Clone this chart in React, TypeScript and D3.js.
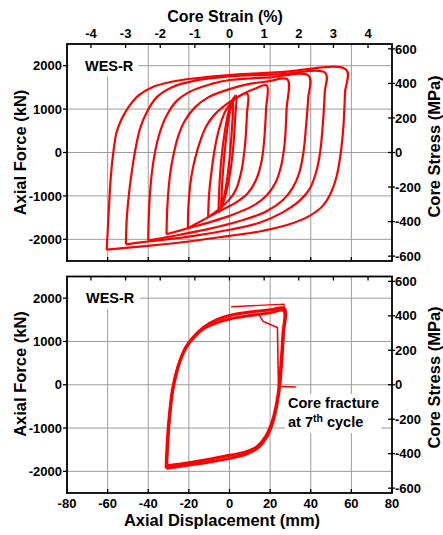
import React from 'react';
import * as d3 from 'd3';

// ---------- axis ticks ----------
const displacementTicks = [-80, -60, -40, -20, 0, 20, 40, 60, 80];
const gridDisplacement = [-60, -40, -20, 0, 20, 40, 60];
const forceTicks = [-2000, -1000, 0, 1000, 2000];
const stressTicks = [-600, -400, -200, 0, 200, 400, 600];
const strainTicks = [-4, -3, -2, -1, 0, 1, 2, 3, 4];

type P = [number, number]; // [displacement mm, force kN]

// ---------- top panel: incremental cyclic loading ----------
const loopS1: P[] = [
  [-4.1, -1250], [-3.6, -700], [-2.6, -100], [-1.2, 500], [0.3, 950], [1.8, 1170],
  [1.4, 700], [0.4, 50], [-1.0, -550], [-2.6, -1000], [-4.1, -1250],
];
const loopS2: P[] = [
  [-5.4, -1380], [-5.0, -800], [-4.0, -150], [-2.4, 450], [-0.4, 950], [1.6, 1220], [3.2, 1310],
  [2.8, 800], [1.8, 100], [0.2, -500], [-1.8, -950], [-3.8, -1250], [-5.4, -1380],
];
const loopL1: P[] = [
  [-10.5, -1490], [-10.1, -1000], [-8.8, -420], [-7.0, 150], [-4.8, 600], [-1.6, 990], [2.5, 1220], [8.8, 1350],
  [8.6, 900], [7.6, 150], [5.9, -420], [3.3, -840], [0, -1080], [-4.8, -1290], [-10.5, -1490],
];
const loopL2: P[] = [
  [-20.5, -1746], [-20.1, -1150], [-18.8, -560], [-17.0, -150], [-14.6, 240], [-11.3, 615], [-7.0, 890],
  [0, 1160], [6.6, 1350], [12.5, 1470], [18.3, 1545],
  [18.0, 1000], [17.0, 240], [15.6, -250], [13.0, -640], [9.0, -940], [3.3, -1150], [-4.0, -1330],
  [-12, -1530], [-20.5, -1746],
];
const loopL3: P[] = [
  [-31, -1885], [-30.6, -1250], [-29.4, -560], [-27.7, -80], [-25.2, 385], [-22, 730], [-17, 1040],
  [-10.5, 1270], [0, 1460], [9.8, 1580], [19, 1640], [28.5, 1685],
  [28.1, 1000], [27.2, 230], [25.4, -310], [22.6, -700], [18, -1000], [11.5, -1230], [0, -1460],
  [-10, -1610], [-20, -1740], [-31, -1885],
];
const loopL4: P[] = [
  [-40, -2030], [-39.6, -1310], [-38.4, -540], [-36.7, 0], [-34.3, 460], [-31, 845], [-26, 1190],
  [-18.7, 1420], [-8.8, 1580], [0, 1670], [20, 1730], [39, 1770],
  [38.7, 1230], [37.7, 615], [36.4, 0], [34.4, -460], [31.2, -810], [26.2, -1100], [18, -1360],
  [5, -1580], [-10, -1760], [-25, -1900], [-40, -2030],
];
const loopL5: P[] = [
  [-51, -2116], [-50.6, -1540], [-49.4, -920], [-47.9, -385], [-46.6, 0], [-44.1, 540], [-40.8, 920],
  [-35.9, 1270], [-28.5, 1500], [-17, 1655], [0, 1755], [25, 1800], [47.2, 1835],
  [46.9, 1385], [45.9, 615], [44.6, 0], [42.6, -460], [39.4, -845], [34.4, -1115], [26.2, -1380],
  [14.8, -1620], [0, -1780], [-20, -1940], [-40, -2050], [-51, -2116],
];
const loopL6: P[] = [
  [-60.5, -2240], [-60, -1850], [-59.3, -1230], [-58.4, -540], [-57.2, 0], [-55.6, 460], [-53.1, 770],
  [-49.8, 1040], [-44.9, 1310], [-38.3, 1500], [-28.5, 1630], [-17, 1710], [0, 1785], [25, 1850], [57.5, 1905],
  [56.9, 1385], [56.1, 615], [54.8, 0], [52.8, -540], [50, -920], [45.9, -1230], [39.4, -1460],
  [29.5, -1654], [14.8, -1820], [0, -1920], [-20, -2050], [-40, -2150], [-60.5, -2240],
];
const topLoops = [loopS1, loopS2, loopL1, loopL2, loopL3, loopL4, loopL5, loopL6];

// ---------- bottom panel: constant amplitude until fracture ----------
const cycleA: P[] = [
  [-31.2, -1930], [-30.6, -1300], [-29.6, -700], [-28.2, -150], [-26.4, 250], [-24.4, 560], [-21.6, 860],
  [-18, 1090], [-13, 1320], [-6.5, 1500], [0, 1600], [10, 1680], [20, 1730], [27.0, 1760],
  [26.6, 1200], [25.8, 600], [24.8, 0], [23.4, -450], [21.4, -860], [18.4, -1200], [14.2, -1450],
  [8, -1610], [0, -1700], [-12, -1800], [-24, -1880], [-31.2, -1930],
];
const cycleB: P[] = [
  [-30.9, -1870], [-30.3, -1270], [-29.3, -670], [-27.9, -120], [-26.0, 280], [-24.0, 590], [-21.1, 880],
  [-17.4, 1100], [-12.2, 1310], [-5.8, 1440], [0, 1520], [10, 1600], [20, 1660], [26.7, 1710],
  [26.3, 1180], [25.5, 580], [24.5, 0], [23.1, -450], [21.0, -850], [18.0, -1180], [13.8, -1420],
  [7.6, -1560], [0, -1630], [-12, -1740], [-24, -1830], [-30.9, -1870],
];
const lastApproach: P[] = [[0.8, 1800], [26.8, 1862], [27.1, 1745]];
const fracturePath: P[] = [[14.6, 1615], [16.6, 1462], [18.7, 1420], [23.6, 1320], [24.1, -38], [32.7, -53]];

// ---------- layout ----------
const W = 443, H = 535;
const X0 = 67, X1 = 392;
const MM_PER_PCT = 17.05; // displacement per 1 % core strain
const KN_PER_MPA = 3.98; // core area
const FONT = "'Liberation Sans', Arial, sans-serif";
const RED = '#ff0000';
const GRID = '#9c9c9c';

const panels = [
  { top: 44, bottom: 261, showStrainLabels: true, showDispLabels: false, titleLeftY: 152.5, titleRightY: 146.5,
    label: { x: 85, boxX: 69, boxW: 69 } },
  { top: 276.5, bottom: 493, showStrainLabels: false, showDispLabels: true, titleLeftY: 374, titleRightY: 377.5,
    label: { x: 86, boxX: 69, boxW: 71 } },
];

export default function App() {
  const x = d3.scaleLinear().domain([-80, 80]).range([X0, X1]);
  const xs = d3.scaleLinear().domain([-80 / MM_PER_PCT, 80 / MM_PER_PCT]).range([X0, X1]);

  return (
    <svg width={W} height={H} style={{ position: 'absolute', left: 0, top: 0, background: '#fff' }}
      fontFamily={FONT} fontWeight="bold">
      <rect x={0} y={0} width={W} height={H} fill="#fff" />
      {panels.map((p, i) => {
        const y = d3.scaleLinear().domain([-2500, 2500]).range([p.bottom, p.top]);
        const ys = d3.scaleLinear().domain([-2500 / KN_PER_MPA, 2500 / KN_PER_MPA]).range([p.bottom, p.top]);
        const line = d3.line<P>().x(d => x(d[0])).y(d => y(d[1])).curve(d3.curveCatmullRom.alpha(0.5));
        const lineStraight = d3.line<P>().x(d => x(d[0])).y(d => y(d[1]));
        return (
          <g key={i}>
            {/* grid */}
            {gridDisplacement.map(v => (
              <line key={'gx' + v} x1={x(v)} x2={x(v)} y1={p.top} y2={p.bottom} stroke={GRID} strokeWidth={1} />
            ))}
            {forceTicks.map(v => (
              <line key={'gy' + v} x1={X0} x2={X1} y1={y(v)} y2={y(v)} stroke={GRID} strokeWidth={1} />
            ))}
            {/* label box */}
            <rect x={p.label.boxX} y={p.top + 1} width={p.label.boxW} height={y(2000) - p.top + 10} fill="#fff" />
            {i === 1 && <rect x={285} y={394} width={96} height={39} fill="#fff" />}
            {/* data */}
            {i === 0 && topLoops.map((lp, k) => (
              <path key={k} d={line(lp) || ''} fill="none" stroke={RED} strokeWidth={2.2} strokeLinejoin="round" />
            ))}
            {i === 1 && (
              <g>
                <path d={line(cycleB) || ''} fill="none" stroke={RED} strokeWidth={3} strokeLinejoin="round" />
                <path d={line(cycleA) || ''} fill="none" stroke={RED} strokeWidth={3} strokeLinejoin="round" />
                <path d={lineStraight(lastApproach) || ''} fill="none" stroke={RED} strokeWidth={1.4} />
                <path d={lineStraight(fracturePath) || ''} fill="none" stroke={RED} strokeWidth={1.6} />
              </g>
            )}
            {/* frame */}
            <rect x={X0} y={p.top} width={X1 - X0} height={p.bottom - p.top} fill="none" stroke="#000" strokeWidth={1.8} />
            {/* strain ticks (top, inward) */}
            {strainTicks.map(v => (
              <line key={'st' + v} x1={xs(v)} x2={xs(v)} y1={p.top} y2={p.top + 4} stroke="#000" strokeWidth={1.3} />
            ))}
            {/* displacement ticks (bottom, inward) */}
            {displacementTicks.map(v => (
              <line key={'dt' + v} x1={x(v)} x2={x(v)} y1={p.bottom} y2={p.bottom - 4} stroke="#000" strokeWidth={1.3} />
            ))}
            {/* force ticks (left, outward) */}
            {forceTicks.map(v => (
              <line key={'ft' + v} x1={X0 - 4} x2={X0} y1={y(v)} y2={y(v)} stroke="#000" strokeWidth={1.3} />
            ))}
            {/* stress ticks (right) */}
            {stressTicks.map(v => (
              <line key={'sst' + v} x1={X1 - 4} x2={X1 + 3} y1={ys(v)} y2={ys(v)} stroke="#000" strokeWidth={1.3} />
            ))}
            {/* labels */}
            {forceTicks.map(v => (
              <text key={'fl' + v} x={X0 - 5} y={y(v)} dy="0.36em" textAnchor="end" fontSize={13}>{v}</text>
            ))}
            {stressTicks.map(v => (
              <text key={'sl' + v} x={X1 + 3} y={ys(v)} dy="0.36em" textAnchor="start" fontSize={13}>{v}</text>
            ))}
            {p.showStrainLabels && strainTicks.map(v => (
              <text key={'sl2' + v} x={xs(v)} y={38} textAnchor="middle" fontSize={13}>{v}</text>
            ))}
            {p.showDispLabels && displacementTicks.map(v => (
              <text key={'dl' + v} x={x(v)} y={508} textAnchor="middle" fontSize={13}>{v}</text>
            ))}
            <text x={p.label.x} y={y(2000)} dy="0.36em" fontSize={14.5}>WES-R</text>
            <text transform={`translate(26,${p.titleLeftY}) rotate(-90)`} textAnchor="middle" fontSize={16.5}>Axial Force (kN)</text>
            <text transform={`translate(440,${p.titleRightY}) rotate(-90)`} textAnchor="middle" fontSize={16.5}>Core Stress (MPa)</text>
            {i === 1 && (
              <g fontSize={14.5}>
                <text x={288} y={408}>Core fracture</text>
                <text x={288} y={427}>at 7<tspan fontSize={10.5} dy={-5}>th</tspan><tspan dy={5}> cycle</tspan></text>
              </g>
            )}
          </g>
        );
      })}
      <text x={225} y={22} textAnchor="middle" fontSize={16}>Core Strain (%)</text>
      <text x={222} y={526} textAnchor="middle" fontSize={16.5}>Axial Displacement (mm)</text>
    </svg>
  );
}
